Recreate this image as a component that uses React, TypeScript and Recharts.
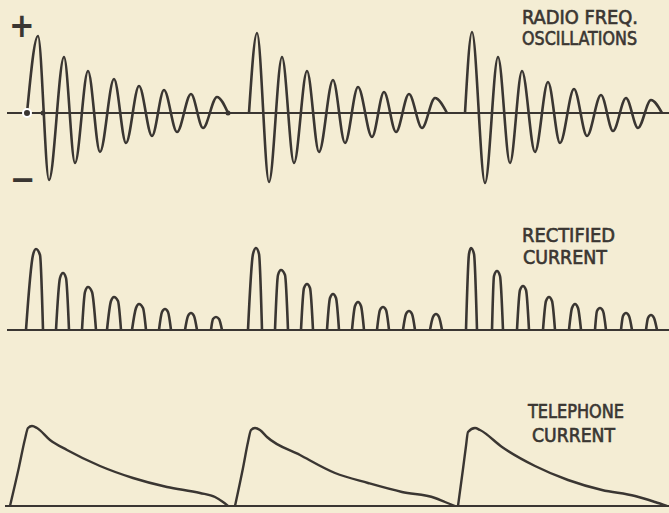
import { LineChart, Line, XAxis, YAxis, ReferenceLine, ReferenceDot } from 'recharts';

// radio frequency wave trains: time and amplitude at each start, crest, trough and end
const rfTime = [
  27, 38, 49, 64, 75, 88, 100, 114, 126, 139, 152, 164, 177, 191, 203, 217, 228, 238,
  249, 257, 269, 282, 294, 307, 319, 333, 345, 358, 372, 384, 396, 409, 422, 435, 447, 456,
  465, 472, 485, 498, 510, 522, 535, 548, 560, 574, 587, 601, 613, 626, 638, 651, 662,
];
const rfAmp = [
  0, 77, -67, 56, -50, 42, -39, 34, -30, 27, -23, 23, -19, 19, -15, 16, 0, null,
  0, 80, -69, 56, -50, 42, -39, 33, -30, 26, -24, 21, -19, 19, -15, 15, 0, null,
  0, 81, -70, 56, -50, 42, -39, 31, -30, 24, -23, 18, -18, 15, -15, 13, 0,
];

// rectified pulses (one entry per half cycle)
const pulseStart = [26, 56, 82, 107, 132, 159, 185, 211, 248, 275, 301, 327, 352, 377, 403, 430, 466, 492, 517, 543, 569, 595, 621, 646];
const pulseLeft = [33, 60, 85, 111, 136, 162, 188, 213, 253, 278, 304, 330, 355, 380, 406, 433, 469, 494, 520, 546, 572, 597, 623, 648];
const pulsePeak = [36, 63, 88, 114, 139, 165, 191, 216, 256, 281, 307, 333, 358, 383, 409, 436, 471, 497, 523, 549, 575, 600, 626, 651];
const pulseRight = [40, 66, 92, 118, 143, 168, 194, 219, 259, 285, 310, 336, 361, 386, 412, 439, 474, 500, 526, 552, 578, 603, 629, 654];
const pulseEnd = [43, 69, 96, 121, 146, 171, 197, 222, 262, 288, 313, 339, 364, 389, 415, 442, 477, 503, 529, 555, 581, 606, 632, 657];
const pulseHeight = [81, 57, 43, 33, 26, 21, 17, 13, 82, 60, 46, 36, 28, 23, 19, 16, 82, 59, 44, 33, 26, 22, 17, 15];
const pulseShoulder = [75, 52, 38, 29, 22, 18, 14, 11, 76, 55, 42, 32, 24, 20, 16, 13, 76, 54, 40, 29, 22, 19, 14, 12];

// telephone current
const telTime = [
  10, 19, 25, 28, 32, 37, 50, 67, 100, 133, 167, 200, 215, 223, 228, 231,
  235, 243, 248, 251, 255, 260, 267, 300, 335, 368, 402, 435, 445, 455, 457,
  458, 463, 466, 468, 475, 480, 502, 535, 568, 602, 635, 655, 667,
];
const telAmp = [
  0, 39, 67, 78, 80, 78, 66, 56, 40, 28, 19, 13, 9, 4, 0, null,
  0, 38, 64, 76, 78, 76, 69, 51, 33, 23, 14, 8, 4, 0, null,
  0, 37, 60, 74, 78, 76, 59, 40, 26, 16, 10, 4, 0,
];

const W = 669;
const INK = '#3a3632';
const PAPER = '#f4edd4';

const rfData = rfTime.map((t, i) => ({ t, v: rfAmp[i] }));
const rectData = pulseStart.flatMap((s, i) => [
  { t: s, v: 0 },
  { t: pulseLeft[i], v: pulseShoulder[i] },
  { t: pulsePeak[i], v: pulseHeight[i] },
  { t: pulseRight[i], v: pulseShoulder[i] },
  { t: pulseEnd[i], v: 0 },
  { t: pulseEnd[i] + 1, v: null },
]);
const telData = telTime.map((t, i) => ({ t, v: telAmp[i] }));

function Panel({ data, top, height, domain, lineStart, width, dots }: any) {
  return (
    <div style={{ position: 'absolute', left: 0, top }}>
      <LineChart width={W} height={height} data={data} margin={{ top: 0, right: 0, bottom: 0, left: 0 }}>
        <XAxis dataKey="t" type="number" domain={[0, W]} hide allowDataOverflow />
        <YAxis type="number" domain={domain} hide allowDataOverflow />
        <ReferenceLine
          segment={[{ x: lineStart, y: 0 }, { x: W, y: 0 }]}
          stroke={INK}
          strokeWidth={2}
          ifOverflow="visible"
        />
        {(dots || []).map((d: any, i: number) => (
          <ReferenceDot key={i} x={d[0]} y={0} r={d[1]} fill={INK} stroke={INK} strokeWidth={0} />
        ))}
        <Line
          type="monotone"
          dataKey="v"
          stroke={INK}
          strokeWidth={width}
          dot={false}
          connectNulls={false}
          isAnimationActive={false}
        />
      </LineChart>
    </div>
  );
}

const labelStyle = {
  fontFamily: "'DejaVu Sans Condensed', 'DejaVu Sans', sans-serif",
  fontSize: 19,
  fill: INK,
  stroke: INK,
  strokeWidth: 0.6,
};

export default function App() {
  return (
    <div style={{ position: 'absolute', left: 0, top: 0, width: W, height: 513, background: PAPER, overflow: 'hidden' }}>
      <Panel data={rfData} top={0} height={200} domain={[-87, 113]} lineStart={7} width={2.6} dots={[[43, 2.5], [228, 2.5]]} />
      <Panel data={rectData} top={200} height={140} domain={[-10, 130]} lineStart={7} width={2.6} />
      <Panel data={telData} top={360} height={153} domain={[-7, 146]} lineStart={5} width={2.4} />
      <svg width={W} height={513} style={{ position: 'absolute', left: 0, top: 0, pointerEvents: 'none' }}>
        <text x={9} y={37} style={{ ...labelStyle, fontSize: 34, fontWeight: 'bold', strokeWidth: 0 }}>+</text>
        <text x={10} y={191} style={{ ...labelStyle, fontSize: 34, fontWeight: 'bold', strokeWidth: 0 }}>−</text>
        <text x={522} y={24} textLength={116} lengthAdjust="spacingAndGlyphs" style={labelStyle}>RADIO FREQ.</text>
        <text x={522} y={45} textLength={115} lengthAdjust="spacingAndGlyphs" style={labelStyle}>OSCILLATIONS</text>
        <text x={522} y={242} textLength={93} lengthAdjust="spacingAndGlyphs" style={labelStyle}>RECTIFIED</text>
        <text x={523} y={264} textLength={84} lengthAdjust="spacingAndGlyphs" style={labelStyle}>CURRENT</text>
        <text x={528} y={418} textLength={96} lengthAdjust="spacingAndGlyphs" style={labelStyle}>TELEPHONE</text>
        <text x={532} y={442} textLength={83} lengthAdjust="spacingAndGlyphs" style={labelStyle}>CURRENT</text>
      </svg>
    </div>
  );
}
